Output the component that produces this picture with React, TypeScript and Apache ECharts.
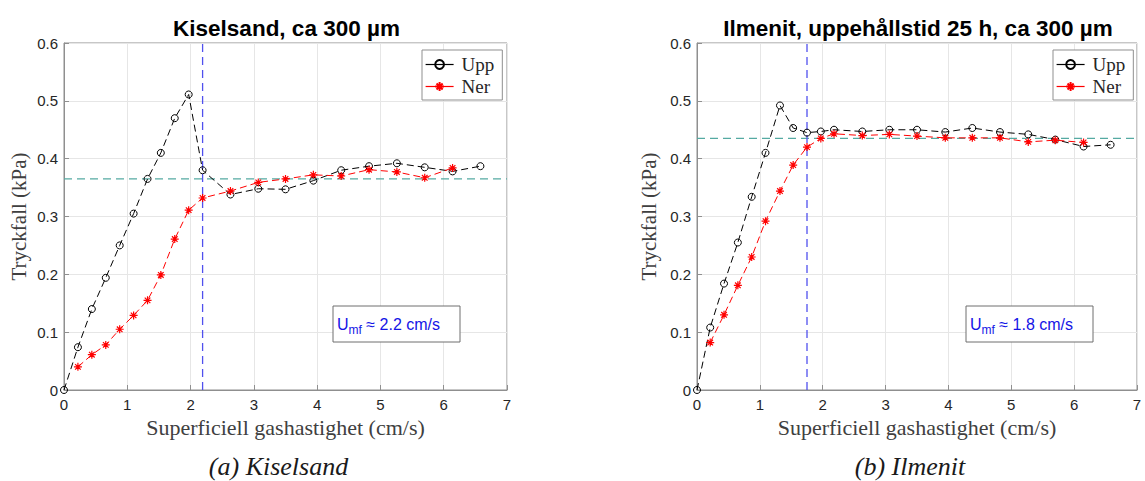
import React, { useEffect, useRef } from "react";
import * as echarts from "echarts";

// ---------- Data: (a) Kiselsand ----------
const kiselUppX = [0, 0.22, 0.44, 0.66, 0.88, 1.1, 1.32, 1.53, 1.75, 1.97, 2.19, 2.63, 3.07, 3.5, 3.94, 4.38, 4.82, 5.26, 5.7, 6.14, 6.58];
const kiselUppY = [0, 0.074, 0.14, 0.194, 0.25, 0.305, 0.365, 0.41, 0.47, 0.511, 0.38, 0.338, 0.348, 0.347, 0.362, 0.38, 0.387, 0.392, 0.385, 0.378, 0.387];
const kiselNerX = [0.22, 0.44, 0.66, 0.88, 1.1, 1.32, 1.53, 1.75, 1.97, 2.19, 2.63, 3.07, 3.5, 3.94, 4.38, 4.82, 5.26, 5.7, 6.14];
const kiselNerY = [0.04, 0.061, 0.078, 0.105, 0.129, 0.155, 0.199, 0.261, 0.311, 0.332, 0.344, 0.359, 0.365, 0.372, 0.37, 0.381, 0.377, 0.367, 0.384];
const kiselUmf = 2.19;
const kiselPlateau = 0.365;
const kiselUmfLabel = "2.2";

// ---------- Data: (b) Ilmenit ----------
const ilmUppX = [0, 0.21, 0.43, 0.65, 0.87, 1.09, 1.32, 1.53, 1.75, 1.97, 2.18, 2.63, 3.06, 3.5, 3.95, 4.38, 4.82, 5.27, 5.7, 6.15, 6.58];
const ilmUppY = [0, 0.108, 0.184, 0.255, 0.334, 0.41, 0.492, 0.453, 0.445, 0.447, 0.45, 0.447, 0.45, 0.45, 0.446, 0.453, 0.446, 0.442, 0.433, 0.421, 0.424];
const ilmNerX = [0.21, 0.43, 0.65, 0.87, 1.09, 1.32, 1.53, 1.75, 1.97, 2.18, 2.63, 3.06, 3.5, 3.95, 4.38, 4.82, 5.27, 5.7, 6.15];
const ilmNerY = [0.082, 0.13, 0.181, 0.23, 0.292, 0.344, 0.389, 0.42, 0.435, 0.443, 0.44, 0.442, 0.439, 0.436, 0.436, 0.436, 0.429, 0.432, 0.428];
const ilmUmf = 1.75;
const ilmPlateau = 0.435;
const ilmUmfLabel = "1.8";

const titles = ["Kiselsand, ca 300 µm", "Ilmenit, uppehållstid 25 h, ca 300 µm"];
const captions = ["(a) Kiselsand", "(b) Ilmenit"];
const seriesNames = ["Upp", "Ner"];
const xName = "Superficiell gashastighet (cm/s)";
const yName = "Tryckfall (kPa)";
const xMin = 0, xMax = 7, xStep = 1;
const yMin = 0, yMax = 0.6, yStep = 0.1;

const SANS = "'Liberation Sans', Arial, Helvetica, sans-serif";
const SERIF = "'Liberation Serif', 'Times New Roman', serif";
const ASTERISK = "path://M0,-5L0,5M-5,0L5,0M-3.5,-3.5L3.5,3.5M-3.5,3.5L3.5,-3.5";

const zip = (xs: number[], ys: number[]) => xs.map((x, i) => [x, ys[i]]);

const GRIDS = [
  { left: 64, top: 43, width: 443, height: 347 },
  { left: 697, top: 43, width: 440, height: 347 },
];

function buildOption() {
  const panels = [
    { upp: zip(kiselUppX, kiselUppY), ner: zip(kiselNerX, kiselNerY), umf: kiselUmf, plateau: kiselPlateau, label: kiselUmfLabel },
    { upp: zip(ilmUppX, ilmUppY), ner: zip(ilmNerX, ilmNerY), umf: ilmUmf, plateau: ilmPlateau, label: ilmUmfLabel },
  ];

  const grid = GRIDS.map((g) => ({ ...g, show: true, borderColor: "#8f8f8f", borderWidth: 1, backgroundColor: "#fff", containLabel: false }));

  const xAxis = GRIDS.map((_, i) => ({
    type: "value",
    gridIndex: i,
    min: xMin,
    max: xMax,
    interval: xStep,
    axisLine: { show: true, lineStyle: { color: "#8f8f8f", width: 1 } },
    axisTick: { show: true, inside: true, length: 5, lineStyle: { color: "#8f8f8f" } },
    axisLabel: { color: "#262626", fontSize: 15, fontFamily: SANS, margin: 7 },
    splitLine: { show: true, lineStyle: { color: "#e6e6e6", width: 1 } },
    name: xName,
    nameLocation: "middle",
    nameGap: 19,
    nameTextStyle: { fontFamily: SERIF, fontSize: 22, color: "#404040" },
  }));

  const yAxis = GRIDS.map((_, i) => ({
    type: "value",
    gridIndex: i,
    min: yMin,
    max: yMax,
    interval: yStep,
    axisLine: { show: true, lineStyle: { color: "#8f8f8f", width: 1 } },
    axisTick: { show: true, inside: true, length: 5, lineStyle: { color: "#8f8f8f" } },
    axisLabel: {
      color: "#262626",
      fontSize: 15,
      fontFamily: SANS,
      margin: 6,
      formatter: (v: number) => (v === 0 ? "0" : v.toFixed(1)),
    },
    splitLine: { show: true, lineStyle: { color: "#e6e6e6", width: 1 } },
    name: yName,
    nameLocation: "middle",
    nameGap: i === 0 ? 35 : 38,
    nameTextStyle: { fontFamily: SERIF, fontSize: 21, color: "#404040" },
  }));

  const series: any[] = [];
  panels.forEach((p, i) => {
    series.push({
      type: "line",
      name: "plateau" + i,
      xAxisIndex: i,
      yAxisIndex: i,
      data: [[xMin, p.plateau], [xMax, p.plateau]],
      symbol: "none",
      silent: true,
      lineStyle: { color: "#55aaa2", width: 1.3, type: [8, 5] },
      z: 2,
    });
    series.push({
      type: "line",
      name: "umf" + i,
      xAxisIndex: i,
      yAxisIndex: i,
      data: [[p.umf, yMin], [p.umf, yMax]],
      symbol: "none",
      silent: true,
      lineStyle: { color: "#5050ee", width: 1.3, type: [8, 5] },
      z: 2,
    });
    series.push({
      type: "line",
      name: seriesNames[0],
      xAxisIndex: i,
      yAxisIndex: i,
      data: p.upp,
      symbol: "circle",
      symbolSize: 7,
      itemStyle: { color: "rgba(255,255,255,0)", borderColor: "#000", borderWidth: 1 },
      lineStyle: { color: "#000", width: 1, type: [7, 4] },
      z: 3,
    });
    series.push({
      type: "line",
      name: seriesNames[1],
      xAxisIndex: i,
      yAxisIndex: i,
      data: p.ner,
      symbol: ASTERISK,
      symbolSize: 8,
      itemStyle: { color: "#ff0000", borderColor: "#ff0000", borderWidth: 1.2 },
      lineStyle: { color: "#ff0000", width: 1, type: [7, 4] },
      z: 4,
    });
  });

  const legend = [422, 1053].map((left) => ({
    data: seriesNames,
    left,
    top: 50,
    orient: "vertical",
    backgroundColor: "#fff",
    borderColor: "#8f8f8f",
    borderWidth: 1,
    borderRadius: 0,
    padding: [5, 8, 4, 3],
    itemWidth: 28,
    itemHeight: 11,
    itemGap: 3,
    selectedMode: false,
    lineStyle: { type: "solid", width: 1.2 },
    textStyle: { fontFamily: SERIF, fontSize: 19, lineHeight: 19, color: "#262626", padding: [0, 0, 0, 3] },
  }));

  const graphic: any[] = [];
  GRIDS.forEach((g, i) => {
    const cx = g.left + g.width / 2;
    graphic.push({
      type: "text",
      x: cx + 1,
      y: 28,
      style: { text: titles[i], fontFamily: SANS, fontWeight: "bold", fontSize: 22.5, fill: "#000", align: "center", verticalAlign: "middle" },
    });
    graphic.push({
      type: "text",
      x: cx - 7,
      y: 466,
      style: { text: captions[i], fontFamily: SERIF, fontStyle: "italic", fontSize: 26, fill: "#1a1a1a", align: "center", verticalAlign: "middle" },
    });
    const bx = g.left + 269;
    graphic.push({
      type: "rect",
      shape: { x: bx, y: 306, width: 127, height: 36 },
      style: { fill: "#fff", stroke: "#6e6e6e", lineWidth: 1 },
      z: 10,
    });
    graphic.push({
      type: "text",
      x: bx + 4,
      y: 324,
      z: 11,
      style: {
        text: `{u|U}{s|mf}{t| ≈ ${panels[i].label} cm/s}`,
        align: "left",
        verticalAlign: "middle",
        rich: {
          u: { fontFamily: SANS, fontSize: 16, fill: "#1414e6", lineHeight: 24 },
          s: { fontFamily: SANS, fontSize: 12, fill: "#1414e6", verticalAlign: "bottom", lineHeight: 12 },
          t: { fontFamily: SANS, fontSize: 16, fill: "#1414e6", lineHeight: 24 },
        },
      },
    });
  });

  return {
    animation: false,
    backgroundColor: "#fff",
    grid,
    xAxis,
    yAxis,
    series,
    legend,
    graphic,
  };
}

export default function App() {
  const ref = useRef<HTMLDivElement>(null);
  useEffect(() => {
    if (!ref.current) return;
    const chart = echarts.init(ref.current, null, { renderer: "svg" });
    chart.setOption(buildOption() as any);
    return () => chart.dispose();
  }, []);
  return (
    <div
      ref={ref}
      style={{ position: "absolute", left: 0, top: 0, width: 1145, height: 481, background: "#fff" }}
    />
  );
}
